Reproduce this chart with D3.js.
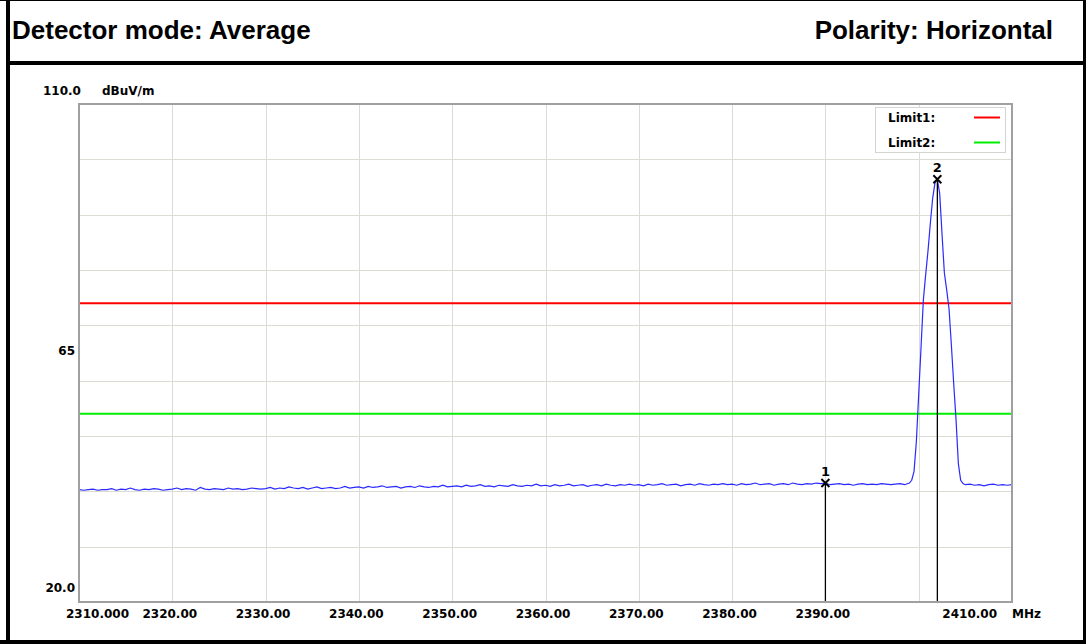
<!DOCTYPE html>
<html>
<head>
<meta charset="utf-8">
<script src="https://cdn.jsdelivr.net/npm/d3@7"></script>
<style>
  html, body { margin: 0; padding: 0; background: #fff; }
  svg { display: block; }
</style>
</head>
<body>
<div id="chart"></div>
<script>
// ---------------- DATA ----------------
const headerLeft = "Detector mode: Average";
const headerRight = "Polarity: Horizontal";
const yUnit = "dBuV/m";
const xUnit = "MHz";

const xDomain = [2310, 2410];
const yDomain = [20, 110];

const xTickValues = [2310, 2320, 2330, 2340, 2350, 2360, 2370, 2380, 2390, 2400, 2410];
const xTickLabels = ["2310.000", "2320.00", "2330.00", "2340.00", "2350.00", "2360.00", "2370.00", "2380.00", "2390.00", "", "2410.00"];
const yGridValues = [30, 40, 50, 60, 70, 80, 90, 100];
const yLabelValues = [110, 65, 20];
const yLabelTexts = ["110.0", "65", "20.0"];

const limitNames = ["Limit1:", "Limit2:"];
const limitValues = [74, 54];
const limitColors = ["#ff0000", "#00ee00"];

const markerNames = ["1", "2"];
const markerFreqs = [2390.0, 2402.0];
const markerLevels = [41.5, 96.4];

// trace: noise floor 2310.0 .. 2399.0 MHz, 0.5 MHz step
const floorStart = 2310.0;
const floorStep = 0.5;
const floorLevels = [
  40.3, 40.2, 40.3, 40.4, 40.2, 40.3, 40.3, 40.5, 40.2, 40.4, 40.3, 40.6, 40.3, 40.2, 40.4, 40.3, 40.5, 40.4, 40.2, 40.3,
  40.4, 40.6, 40.3, 40.5, 40.4, 40.2, 40.7, 40.4, 40.3, 40.5, 40.4, 40.3, 40.6, 40.4, 40.5, 40.3, 40.4, 40.6, 40.5, 40.4,
  40.5, 40.7, 40.4, 40.6, 40.5, 40.8, 40.6, 40.5, 40.7, 40.4, 40.6, 40.8, 40.5, 40.6, 40.7, 40.5, 40.6, 40.9, 40.6, 40.7,
  40.8, 40.6, 40.9, 40.7, 40.8, 41.0, 40.7, 40.8, 40.9, 40.6, 40.8, 40.9, 40.7, 41.0, 40.8, 40.7, 40.9, 40.8, 41.1, 40.8,
  40.9, 41.0, 40.8, 41.1, 40.9, 41.0, 41.2, 40.9, 41.0, 40.8, 41.1, 41.0, 40.9, 41.2, 41.0, 40.9, 41.1, 41.0, 41.3, 41.0,
  41.1, 40.9, 41.2, 41.0, 41.1, 41.3, 41.0, 41.1, 41.2, 40.9, 41.1, 41.2, 41.0, 41.3, 41.1, 41.0, 41.2, 41.1, 41.3, 41.1,
  41.2, 41.0, 41.3, 41.1, 41.2, 41.4, 41.1, 41.2, 41.3, 41.0, 41.2, 41.3, 41.1, 41.4, 41.2, 41.1, 41.3, 41.2, 41.4, 41.2,
  41.3, 41.1, 41.4, 41.2, 41.3, 41.5, 41.2, 41.3, 41.4, 41.1, 41.3, 41.4, 41.2, 41.5, 41.3, 41.2, 41.4, 41.3, 41.5, 41.4,
  41.5, 41.2, 41.3, 41.4, 41.2, 41.3, 41.1, 41.3, 41.4, 41.2, 41.3, 41.2, 41.4, 41.3, 41.2, 41.3, 41.4, 41.2, 41.5
];
// carrier peak
const peakFreqs = [2399.25, 2399.5, 2399.75, 2400.0, 2400.25, 2400.5, 2400.75, 2401.0, 2401.25, 2401.5, 2401.75, 2402.0,
                   2402.25, 2402.5, 2402.75, 2403.0, 2403.25, 2403.5, 2403.75, 2404.0, 2404.25, 2404.5, 2404.75];
const peakLevels = [42.0, 43.6, 49.0, 57.5, 66.0, 74.6, 79.2, 83.5, 88.5, 93.0, 95.8, 96.4,
                    93.8, 86.5, 79.5, 76.4, 73.0, 66.5, 59.5, 53.0, 45.0, 42.0, 41.4];
// tail 2405.0 .. 2410.0 MHz, 0.5 MHz step
const tailStart = 2405.0;
const tailStep = 0.5;
const tailLevels = [41.2, 41.3, 41.1, 41.2, 41.0, 41.2, 41.3, 41.1, 41.2, 41.1, 41.2];

// ---------------- LAYOUT ----------------
const W = 1086, H = 644;
const plot = { left: 79, right: 1012, top: 104, bottom: 602 };
const axisFont = "'DejaVu Sans', sans-serif";
const headFont = "'Liberation Sans', Arial, sans-serif";

const svg = d3.select("#chart").append("svg").attr("width", W).attr("height", H);
svg.append("rect").attr("width", W).attr("height", H).attr("fill", "#fff");

// outer frame
svg.append("rect").attr("x", 0).attr("y", 0).attr("width", W).attr("height", 1).attr("fill", "#000");
svg.append("rect").attr("x", 6).attr("y", 0).attr("width", 4).attr("height", H).attr("fill", "#000");
svg.append("rect").attr("x", W - 3).attr("y", 0).attr("width", 3).attr("height", H).attr("fill", "#000");
svg.append("rect").attr("x", 0).attr("y", H - 4).attr("width", W).attr("height", 4).attr("fill", "#000");
svg.append("rect").attr("x", 6).attr("y", 61).attr("width", W - 6).attr("height", 4).attr("fill", "#000");

// header
svg.append("text").attr("x", 12).attr("y", 39).attr("font-family", headFont).attr("font-weight", "bold")
  .attr("font-size", 26).attr("fill", "#000").text(headerLeft);
svg.append("text").attr("x", 1053).attr("y", 39).attr("text-anchor", "end").attr("font-family", headFont)
  .attr("font-weight", "bold").attr("font-size", 26).attr("fill", "#000").text(headerRight);

// scales
const x = d3.scaleLinear().domain(xDomain).range([plot.left, plot.right]);
const y = d3.scaleLinear().domain(yDomain).range([plot.bottom, plot.top]);

// grid
const grid = svg.append("g").attr("stroke", "#dcdcd4").attr("stroke-width", 1);
grid.selectAll("line.v").data(xTickValues.slice(1, -1)).enter().append("line")
  .attr("x1", d => Math.round(x(d)) + 0.5).attr("x2", d => Math.round(x(d)) + 0.5)
  .attr("y1", plot.top).attr("y2", plot.bottom);
grid.selectAll("line.h").data(yGridValues).enter().append("line")
  .attr("y1", d => Math.round(y(d)) + 0.5).attr("y2", d => Math.round(y(d)) + 0.5)
  .attr("x1", plot.left).attr("x2", plot.right);

// limits
svg.selectAll("line.limit").data(limitValues).enter().append("line")
  .attr("x1", plot.left).attr("x2", plot.right)
  .attr("y1", d => y(d)).attr("y2", d => y(d))
  .attr("stroke", (d, i) => limitColors[i]).attr("stroke-width", 2);

// trace
const trace = [];
floorLevels.forEach((v, i) => trace.push([floorStart + i * floorStep, v]));
peakFreqs.forEach((f, i) => trace.push([f, peakLevels[i]]));
tailLevels.forEach((v, i) => trace.push([tailStart + i * tailStep, v]));
svg.append("path").datum(trace)
  .attr("d", d3.line().x(d => x(d[0])).y(d => y(d[1])))
  .attr("fill", "none").attr("stroke", "#2a2aff").attr("stroke-width", 1.2);

// markers
const mk = svg.selectAll("g.marker").data(markerFreqs).enter().append("g");
mk.append("line")
  .attr("x1", d => x(d)).attr("x2", d => x(d))
  .attr("y1", (d, i) => y(markerLevels[i])).attr("y2", plot.bottom)
  .attr("stroke", "#000").attr("stroke-width", 1.3);
mk.append("path")
  .attr("d", (d, i) => {
    const cx = x(d), cy = y(markerLevels[i]), s = 4;
    return `M${cx - s},${cy - s}L${cx + s},${cy + s}M${cx - s},${cy + s}L${cx + s},${cy - s}`;
  })
  .attr("stroke", "#000").attr("stroke-width", 1.9).attr("fill", "none");
mk.append("text")
  .attr("x", d => x(d)).attr("y", (d, i) => y(markerLevels[i]) - 7)
  .attr("text-anchor", "middle").attr("font-family", axisFont).attr("font-size", 13)
  .attr("font-weight", "bold").attr("fill", "#000").text((d, i) => markerNames[i]);

// plot frame
svg.append("rect").attr("x", plot.left).attr("y", plot.top)
  .attr("width", plot.right - plot.left).attr("height", plot.bottom - plot.top)
  .attr("fill", "none").attr("stroke", "#a0a0a0").attr("stroke-width", 2);

// legend
const lg = svg.append("g");
lg.append("rect").attr("x", 875.5).attr("y", 107.5).attr("width", 130).attr("height", 45)
  .attr("fill", "#fff").attr("stroke", "#d4d4d0").attr("stroke-width", 1);
limitNames.forEach((n, i) => {
  lg.append("text").attr("x", 888).attr("y", 122 + i * 25).attr("font-family", axisFont)
    .attr("font-size", 12).attr("font-weight", "bold").attr("fill", "#000").text(n);
  lg.append("line").attr("x1", 974).attr("x2", 1000).attr("y1", 117.5 + i * 25).attr("y2", 117.5 + i * 25)
    .attr("stroke", limitColors[i]).attr("stroke-width", 2);
});

// x labels
const xl = svg.append("g").attr("font-family", axisFont).attr("font-size", 12).attr("font-weight", "bold").attr("fill", "#000");
xTickValues.forEach((v, i) => {
  const lab = xTickLabels[i];
  if (!lab) return;
  const t = xl.append("text").attr("y", 618).text(lab);
  if (i === 0) t.attr("x", x(v) - 13).attr("text-anchor", "start");
  else if (i === xTickValues.length - 1) t.attr("x", x(v) - 15).attr("text-anchor", "end");
  else t.attr("x", x(v) - 2.5).attr("text-anchor", "middle");
});
xl.append("text").attr("x", plot.right).attr("y", 618).text(xUnit);

// y labels
const yl = svg.append("g").attr("font-family", axisFont).attr("font-size", 12).attr("font-weight", "bold").attr("fill", "#000");
yLabelValues.forEach((v, i) => {
  const t = yl.append("text").text(yLabelTexts[i]);
  if (i === 0) t.attr("x", 43).attr("y", y(v) - 9);
  else if (i === yLabelValues.length - 1) t.attr("x", 75).attr("y", y(v) - 10).attr("text-anchor", "end");
  else t.attr("x", 75).attr("y", y(v) + 2).attr("text-anchor", "end");
});
yl.append("text").attr("x", 102).attr("y", y(yDomain[1]) - 9).text(yUnit);
</script>
</body>
</html>
